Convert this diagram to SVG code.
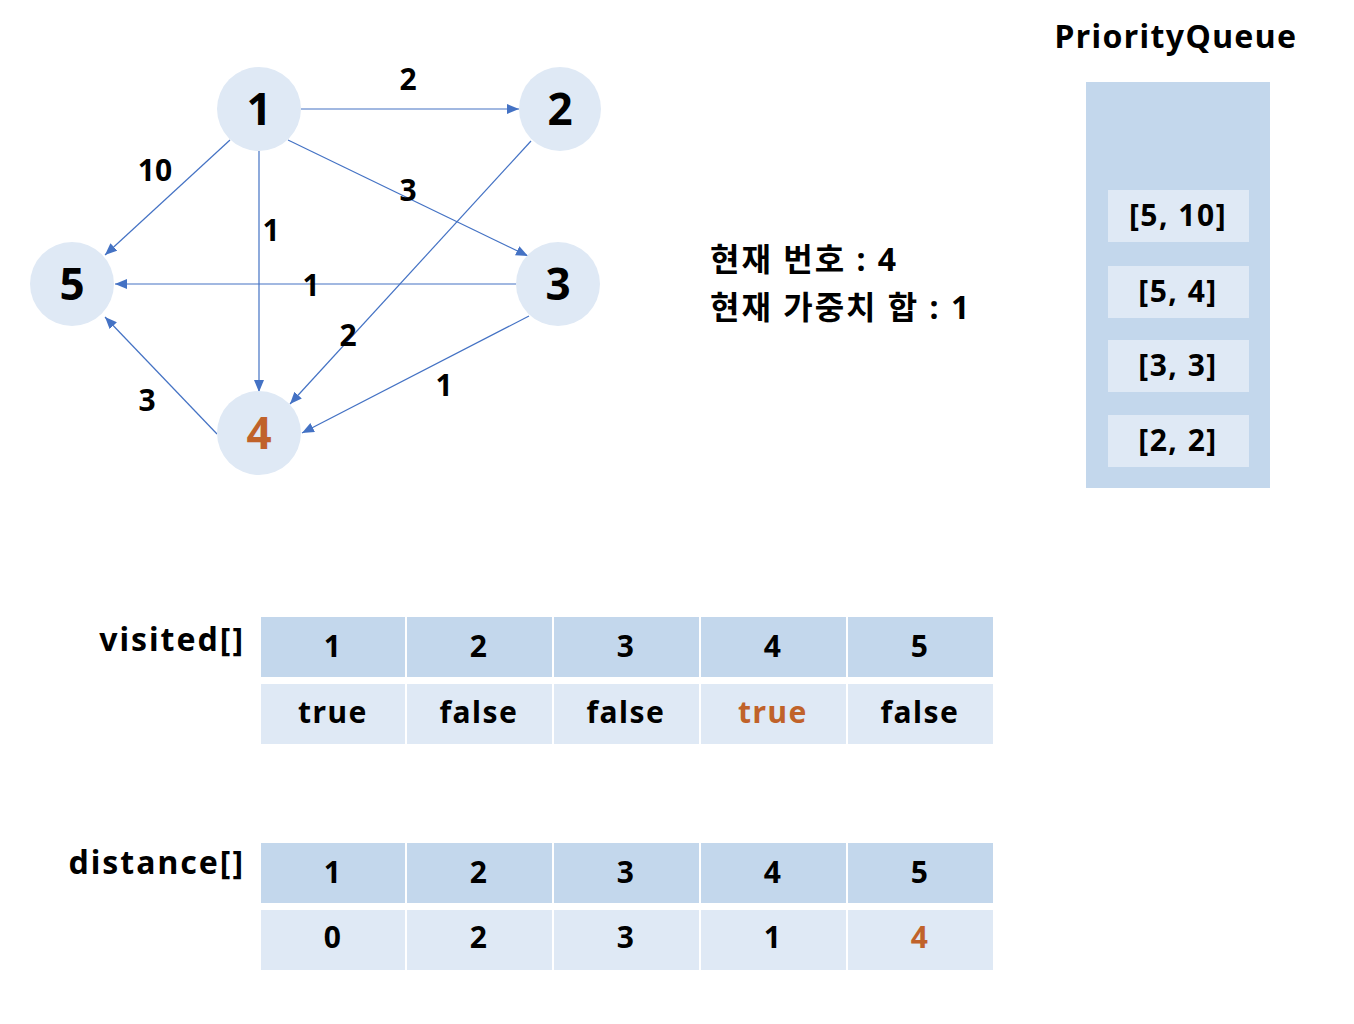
<svg xmlns="http://www.w3.org/2000/svg" width="1354" height="1024" viewBox="0 0 1354 1024">
<defs>
<marker id="arr" viewBox="0 0 12 10" refX="12" refY="5" markerWidth="12" markerHeight="10" markerUnits="userSpaceOnUse" orient="auto">
<path d="M0,0 L12,5 L0,10 Z" fill="#4472C4"/>
</marker>
<style>
.node{fill:#DFE9F5}
.t{font-family:"Noto Sans","Noto Sans CJK KR",sans-serif;font-weight:bold;fill:#000;text-anchor:middle}
.nt{font-size:44px}
.el{font-size:30px}
.hd{fill:#C3D7EC}
.cv{fill:#DFE9F5}
.ct{font-size:30px;letter-spacing:1.5px}
.lab{font-size:32px;letter-spacing:2px}
.or{fill:#C0622A}
.edge{stroke:#4472C4;stroke-width:1.2;fill:none;marker-end:url(#arr)}
</style>
</defs>
<rect width="1354" height="1024" fill="#fff"/>
<g id="connectors">
<line class="edge" x1="301" y1="109" x2="519" y2="109"/>
<line class="edge" x1="230" y1="140" x2="105" y2="255"/>
<line class="edge" x1="259" y1="151" x2="259" y2="392"/>
<line class="edge" x1="288" y1="140" x2="528" y2="256"/>
<line class="edge" x1="531" y1="141" x2="290" y2="404"/>
<line class="edge" x1="516" y1="284" x2="115" y2="284"/>
<line class="edge" x1="529" y1="316" x2="302" y2="433"/>
<line class="edge" x1="217" y1="434" x2="105" y2="317"/>
<g class="t el">
<text x="408" y="90">2</text>
<text x="155" y="181">10</text>
<text x="271" y="241">1</text>
<text x="408" y="201">3</text>
<text x="311" y="296">1</text>
<text x="348" y="346">2</text>
<text x="147" y="411">3</text>
<text x="444" y="396">1</text>
</g>
</g>
<g id="n1"><ellipse class="node" cx="259" cy="109" rx="42" ry="42"/><text class="t nt" x="259" y="125">1</text></g>
<g id="n2"><ellipse class="node" cx="560" cy="109" rx="41" ry="42"/><text class="t nt" x="560" y="125">2</text></g>
<g id="n3"><ellipse class="node" cx="558" cy="284" rx="42" ry="42"/><text class="t nt" x="558" y="300">3</text></g>
<g id="n4"><ellipse class="node" cx="259" cy="433" rx="42" ry="42"/><text class="t nt or" x="259" y="449">4</text></g>
<g id="n5"><ellipse class="node" cx="72" cy="284" rx="42" ry="42"/><text class="t nt" x="72" y="300">5</text></g>
<g id="info">
<text class="t lab" style="text-anchor:start" x="710" y="271">현재 번호 : 4</text>
<text class="t lab" style="text-anchor:start" x="710" y="319">현재 가중치 합 : 1</text>
</g>
<g id="pq">
<text class="t" style="font-size:32px;letter-spacing:1.4px" x="1176" y="48">PriorityQueue</text>
<rect class="hd" x="1086" y="82" width="184" height="406"/>
<rect class="cv" x="1108" y="190" width="141" height="52"/>
<rect class="cv" x="1108" y="266" width="141" height="52"/>
<rect class="cv" x="1108" y="340" width="141" height="52"/>
<rect class="cv" x="1108" y="415" width="141" height="52"/>
<text class="t ct" x="1178" y="226">[5, 10]</text>
<text class="t ct" x="1178" y="302">[5, 4]</text>
<text class="t ct" x="1178" y="376">[3, 3]</text>
<text class="t ct" x="1178" y="451">[2, 2]</text>
</g>
<g id="visited">
<text class="t lab" style="text-anchor:end" x="245" y="651">visited[]</text>
<rect class="hd" x="261" y="617" width="144" height="60"/>
<rect class="hd" x="407" y="617" width="145" height="60"/>
<rect class="hd" x="554" y="617" width="145" height="60"/>
<rect class="hd" x="701" y="617" width="145" height="60"/>
<rect class="hd" x="848" y="617" width="145" height="60"/>
<rect class="cv" x="261" y="684" width="144" height="60"/>
<rect class="cv" x="407" y="684" width="145" height="60"/>
<rect class="cv" x="554" y="684" width="145" height="60"/>
<rect class="cv" x="701" y="684" width="145" height="60"/>
<rect class="cv" x="848" y="684" width="145" height="60"/>
<text class="t ct" x="333" y="657">1</text>
<text class="t ct" x="479" y="657">2</text>
<text class="t ct" x="626" y="657">3</text>
<text class="t ct" x="773" y="657">4</text>
<text class="t ct" x="920" y="657">5</text>
<text class="t ct" x="333" y="723">true</text>
<text class="t ct" x="479" y="723">false</text>
<text class="t ct" x="626" y="723">false</text>
<text class="t ct or" x="773" y="723">true</text>
<text class="t ct" x="920" y="723">false</text>
</g>
<g id="distance">
<text class="t lab" style="text-anchor:end" x="245" y="874">distance[]</text>
<rect class="hd" x="261" y="843" width="144" height="60"/>
<rect class="hd" x="407" y="843" width="145" height="60"/>
<rect class="hd" x="554" y="843" width="145" height="60"/>
<rect class="hd" x="701" y="843" width="145" height="60"/>
<rect class="hd" x="848" y="843" width="145" height="60"/>
<rect class="cv" x="261" y="910" width="144" height="60"/>
<rect class="cv" x="407" y="910" width="145" height="60"/>
<rect class="cv" x="554" y="910" width="145" height="60"/>
<rect class="cv" x="701" y="910" width="145" height="60"/>
<rect class="cv" x="848" y="910" width="145" height="60"/>
<text class="t ct" x="333" y="883">1</text>
<text class="t ct" x="479" y="883">2</text>
<text class="t ct" x="626" y="883">3</text>
<text class="t ct" x="773" y="883">4</text>
<text class="t ct" x="920" y="883">5</text>
<text class="t ct" x="333" y="948">0</text>
<text class="t ct" x="479" y="948">2</text>
<text class="t ct" x="626" y="948">3</text>
<text class="t ct" x="773" y="948">1</text>
<text class="t ct or" x="920" y="948">4</text>
</g>
</svg>
